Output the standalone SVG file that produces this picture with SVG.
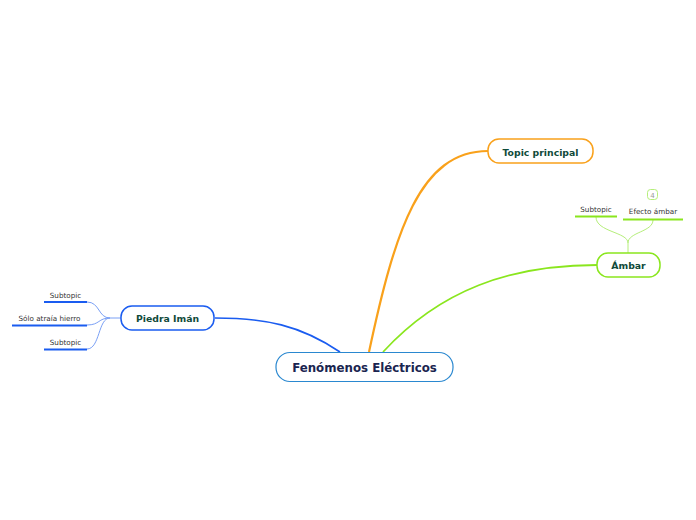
<svg xmlns="http://www.w3.org/2000/svg" width="696" height="520" viewBox="0 0 696 520">
<style>
.t{font-family:"DejaVu Sans","Liberation Sans",sans-serif;font-weight:bold;fill:#0f4a3a;text-anchor:middle}
.s{font-family:"DejaVu Sans","Liberation Sans",sans-serif;font-size:7.2px;fill:#333;text-anchor:middle}
.c{fill:none}
</style>
<rect width="696" height="520" fill="#fff"/>
<g id="connectors">
<path class="c" d="M369,352 C395,230 420,151 488,151" stroke="#f9a11b" stroke-width="2.2"/>
<path class="c" d="M383,352 C440,290 510,265 597,265" stroke="#8ae61e" stroke-width="1.8"/>
<path class="c" d="M340,352 C300,325 265,318 215,318" stroke="#1a5cf0" stroke-width="1.6"/>
<path class="c" d="M628,253 L628,243 C628,232 596,232 596,217" stroke="#b5ee7a" stroke-width="1"/>
<path class="c" d="M628,243 C628,232 653,232 653,220" stroke="#b5ee7a" stroke-width="1"/>
<path class="c" d="M121,318 L110,318 C98,318 100,302 87,302" stroke="#7aa0f5" stroke-width="1"/>
<path class="c" d="M110,318 C98,318 100,325 87,325" stroke="#7aa0f5" stroke-width="1"/>
<path class="c" d="M110,318 C98,318 100,349 87,349" stroke="#7aa0f5" stroke-width="1"/>
</g>
<g id="central">
<rect x="276" y="352.5" width="177" height="29" rx="14" fill="#fff" stroke="#2a88d0" stroke-width="1.2"/>
<text class="t" x="364.5" y="372" font-size="11.8" style="fill:#1a2550">Fenómenos Eléctricos</text>
</g>
<g id="topic-principal">
<rect x="488" y="139" width="105" height="24" rx="11" fill="#fff" stroke="#f9a11b" stroke-width="1.5"/>
<text class="t" x="540.5" y="155.5" font-size="9.3">Topic principal</text>
</g>
<g id="ambar">
<rect x="597" y="253" width="63" height="24" rx="11" fill="#fff" stroke="#8ae61e" stroke-width="1.5"/>
<text class="t" x="628.5" y="269" font-size="9.3">Ámbar</text>
</g>
<g id="ambar-subtopic">
<text class="s" x="596" y="212">Subtopic</text>
<line x1="575" y1="216.5" x2="617" y2="216.5" stroke="#8ae61e" stroke-width="2"/>
</g>
<g id="efecto-ambar">
<rect x="647.5" y="189.5" width="10" height="10" rx="3" fill="#fff" stroke="#b5ee7a" stroke-width="1"/>
<text x="652.5" y="197.5" font-family="DejaVu Sans,Liberation Sans,sans-serif" font-size="7" fill="#999" text-anchor="middle">4</text>
<text class="s" x="653" y="214">Efecto ámbar</text>
<line x1="623" y1="219.5" x2="683" y2="219.5" stroke="#8ae61e" stroke-width="2"/>
</g>
<g id="piedra-iman">
<rect x="121" y="306" width="93" height="24" rx="11" fill="#fff" stroke="#1a5cf0" stroke-width="1.5"/>
<text class="t" x="167.5" y="322" font-size="9.3">Piedra Imán</text>
</g>
<g id="piedra-subtopic-1">
<text class="s" x="65.5" y="297.5">Subtopic</text>
<line x1="44" y1="302" x2="87" y2="302" stroke="#1a5cf0" stroke-width="2"/>
</g>
<g id="solo-atraia-hierro">
<text class="s" x="49.5" y="320.5">Sólo atraía hierro</text>
<line x1="12" y1="325.5" x2="87" y2="325.5" stroke="#1a5cf0" stroke-width="2"/>
</g>
<g id="piedra-subtopic-2">
<text class="s" x="65.5" y="344.5">Subtopic</text>
<line x1="44" y1="349.5" x2="87" y2="349.5" stroke="#1a5cf0" stroke-width="2"/>
</g>
</svg>
